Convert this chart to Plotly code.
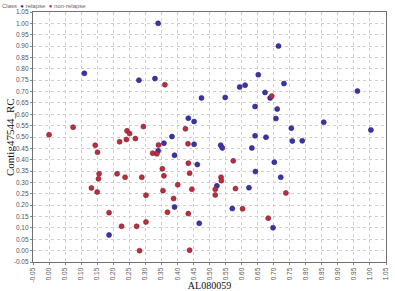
import plotly.graph_objects as go

relapse_x = [0.340, 0.110, 0.280, 0.330, 0.475, 0.434, 0.452, 0.715, 0.652, 0.594,
             0.611, 0.673, 0.689, 0.711, 0.549, 0.642, 0.383, 0.707, 0.642, 0.676,
             0.732, 0.961, 0.856, 1.003, 0.755, 0.758, 0.789, 0.535, 0.540, 0.632,
             0.702, 0.643, 0.722, 0.523, 0.623, 0.571, 0.698, 0.468, 0.358, 0.452,
             0.340, 0.391, 0.462, 0.391, 0.187]
relapse_y = [1.000, 0.780, 0.750, 0.757, 0.672, 0.583, 0.568, 0.900, 0.774, 0.720,
             0.728, 0.696, 0.672, 0.623, 0.674, 0.634, 0.502, 0.581, 0.505, 0.499,
             0.735, 0.702, 0.565, 0.531, 0.539, 0.482, 0.483, 0.464, 0.452, 0.452,
             0.389, 0.348, 0.323, 0.285, 0.277, 0.185, 0.101, 0.120, 0.473, 0.468,
             0.439, 0.420, 0.379, 0.192, 0.069]

nonrelapse_x = [0.075, 0.000, 0.294, 0.243, 0.251, 0.269, 0.361, 0.425, 0.694, 0.574,
                0.536, 0.537, 0.518, 0.518, 0.581, 0.738, 0.603, 0.683, 0.341, 0.433,
                0.336, 0.323, 0.434, 0.353, 0.358, 0.438, 0.401, 0.355, 0.445, 0.388,
                0.369, 0.434, 0.438, 0.144, 0.151, 0.220, 0.241, 0.156, 0.154, 0.212,
                0.237, 0.289, 0.132, 0.150, 0.302, 0.187, 0.226, 0.273, 0.302, 0.282]
nonrelapse_y = [0.543, 0.510, 0.546, 0.527, 0.515, 0.493, 0.730, 0.536, 0.680, 0.395,
                0.323, 0.308, 0.270, 0.245, 0.273, 0.254, 0.184, 0.143, 0.465, 0.470,
                0.426, 0.429, 0.385, 0.360, 0.329, 0.341, 0.290, 0.264, 0.270, 0.229,
                0.169, 0.163, 0.002, 0.464, 0.433, 0.479, 0.489, 0.338, 0.316, 0.338,
                0.323, 0.323, 0.276, 0.258, 0.244, 0.167, 0.107, 0.107, 0.126, 0.000]

class_labels = ["relapse", "non-relapse"]
class_colors = ["#3b33a8", "#b8303f"]

tick_vals = [round(-0.05 + 0.05 * i, 2) for i in range(23)]
tick_text = [f"{v:.2f}" for v in tick_vals]

fig = go.Figure()
fig.add_trace(go.Scatter(
    x=relapse_x, y=relapse_y, mode="markers", name=class_labels[0],
    marker=dict(size=5, color=class_colors[0], line=dict(width=0.6, color="#2a2380")),
))
fig.add_trace(go.Scatter(
    x=nonrelapse_x, y=nonrelapse_y, mode="markers", name=class_labels[1],
    marker=dict(size=5, color=class_colors[1], line=dict(width=0.6, color="#8a2030")),
))

axis_common = dict(
    range=[-0.05, 1.05], tickmode="array", tickvals=tick_vals, ticktext=tick_text,
    showgrid=True, gridcolor="#cfcfcf", griddash="dot", gridwidth=1,
    zeroline=False, showline=True, linecolor="#707070", linewidth=1.2, mirror=True,
    ticks="outside", ticklen=2, tickcolor="#888888", automargin=False,
    tickfont=dict(family="Liberation Sans", size=6.5, color="#555555"),
)

legend_text = ("Class  "
               f"<span style='color:{class_colors[0]}'>●</span> {class_labels[0]}  "
               f"<span style='color:{class_colors[1]}'>●</span> {class_labels[1]}")

fig.update_layout(
    width=395, height=291,
    margin=dict(l=33, r=9, t=12, b=29),
    plot_bgcolor="white", paper_bgcolor="white",
    showlegend=False,
    annotations=[
        dict(text=legend_text, xref="paper", yref="paper", x=-0.093, y=1.0,
             xanchor="left", yanchor="bottom", yshift=1, showarrow=False,
             font=dict(family="Liberation Sans", size=6, color="#666666")),
        dict(text="Contig47544_RC", xref="paper", yref="paper", x=-0.065, y=0.5,
             xanchor="center", yanchor="middle", textangle=-90, showarrow=False,
             font=dict(family="Liberation Serif", size=11, color="#111111")),
    ],
    xaxis=dict(axis_common, tickangle=-90,
               title=dict(text="AL080059", standoff=9,
                          font=dict(family="Liberation Serif", size=10, color="#111111"))),
    yaxis=dict(axis_common),
)

fig.write_html("out.html")
